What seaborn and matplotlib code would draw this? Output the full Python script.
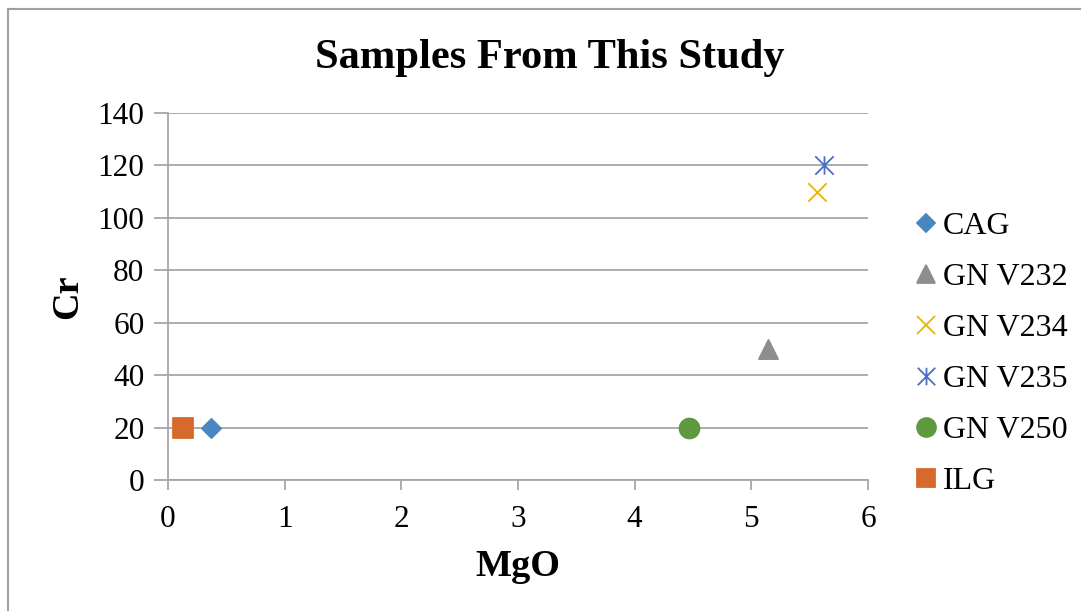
import matplotlib
matplotlib.use("Agg")
import matplotlib.pyplot as plt
from matplotlib.path import Path
from matplotlib.lines import Line2D
import seaborn as sns

# Sample names and measured values (MgO wt%, Cr ppm)
samples = ["CAG", "GN V232", "GN V234", "GN V235", "GN V250", "ILG"]
mgo = [0.37, 5.14, 5.56, 5.62, 4.47, 0.13]
cr = [20, 50, 110, 120, 20, 20]

x_ticks = [0, 1, 2, 3, 4, 5, 6]
y_ticks = [0, 20, 40, 60, 80, 100, 120, 140]

# Six-armed asterisk: vertical stroke plus a diagonal cross
asterisk = Path(
    [(0, -1), (0, 1), (-1, -1), (1, 1), (-1, 1), (1, -1)],
    [Path.MOVETO, Path.LINETO, Path.MOVETO, Path.LINETO, Path.MOVETO, Path.LINETO],
)

colors = ["#4A86BF", "#8E8E8E", "#E8B20C", "#4A70C0", "#5E9A3D", "#D66A2C"]
markers = ["D", "^", "x", asterisk, "o", "s"]
sizes = [95, 190, 175, 175, 205, 205]

sns.set_theme(style="white")
plt.rcParams["font.family"] = ["Liberation Serif", "DejaVu Serif"]
plt.rcParams["text.color"] = "black"

W, H = 1081, 611
fig = plt.figure(figsize=(W / 100, H / 100), dpi=100)
ax = fig.add_axes([168 / W, 1 - 480 / H, 700 / W, 367 / H])

for name, xv, yv, c, m, s in zip(samples, mgo, cr, colors, markers, sizes):
    sns.scatterplot(
        x=[xv], y=[yv], ax=ax, marker=m, color=c, s=s,
        edgecolor=c, linewidth=1.3, label=name, zorder=3, legend=False,
    )

ax.set_xlim(0, 6)
ax.set_ylim(0, 140)
ax.set_xticks(x_ticks)
ax.set_yticks(y_ticks)
ax.set_xticklabels([str(v) for v in x_ticks], fontsize=22.5, color="black")
ax.set_yticklabels([str(v) for v in y_ticks], fontsize=22.5, color="black")

grid_c = "#A6A6A6"
ax.yaxis.grid(True, color=grid_c, linewidth=1.3)
ax.xaxis.grid(False)
ax.set_axisbelow(True)
for side in ["top", "right"]:
    ax.spines[side].set_visible(False)
for side in ["left", "bottom"]:
    ax.spines[side].set_color(grid_c)
    ax.spines[side].set_linewidth(1.3)
ax.tick_params(axis="x", direction="out", length=7, width=1.3, color=grid_c,
               pad=11, labelcolor="black", bottom=True)
ax.tick_params(axis="y", direction="out", length=10, width=1.3, color=grid_c,
               pad=7, labelcolor="black", left=True)

ax.set_xlabel("")
ax.set_ylabel("")
fig.text(518 / W, 1 - 566 / H, "MgO", fontsize=27.5, fontweight="bold",
         ha="center", va="center", color="black")
fig.text(68 / W, 1 - 297 / H, "Cr", fontsize=27.5, fontweight="bold",
         ha="center", va="center", rotation=90, color="black")
fig.text(550 / W, 1 - 58 / H, "Samples From This Study", fontsize=30.6,
         fontweight="bold", ha="center", va="center", color="black")

# Legend handles mirror the scatter markers
handles = [
    Line2D([], [], linestyle="none", marker=m, color=c, markerfacecolor=c,
           markeredgecolor=c, markeredgewidth=1.3, markersize=(s ** 0.5) * 0.95)
    for c, m, s in zip(colors, markers, sizes)
]
leg = fig.legend(handles, samples, loc="center left",
                 bbox_to_anchor=(912 / W, 1 - 354 / H), frameon=False,
                 fontsize=23, handlelength=0.85, handletextpad=0.12,
                 labelspacing=0.68, borderpad=0, borderaxespad=0)
for t in leg.get_texts():
    t.set_color("black")

# Chart-area outline along the left and top edges
fig.add_artist(Line2D([8 / W, 8 / W], [0, 1 - 9 / H], color="#A0A0A0",
                      linewidth=1.5, transform=fig.transFigure))
fig.add_artist(Line2D([8 / W, 1], [1 - 9 / H, 1 - 9 / H], color="#A0A0A0",
                      linewidth=1.5, transform=fig.transFigure))

fig.savefig("out.png", dpi=100, facecolor="white")
